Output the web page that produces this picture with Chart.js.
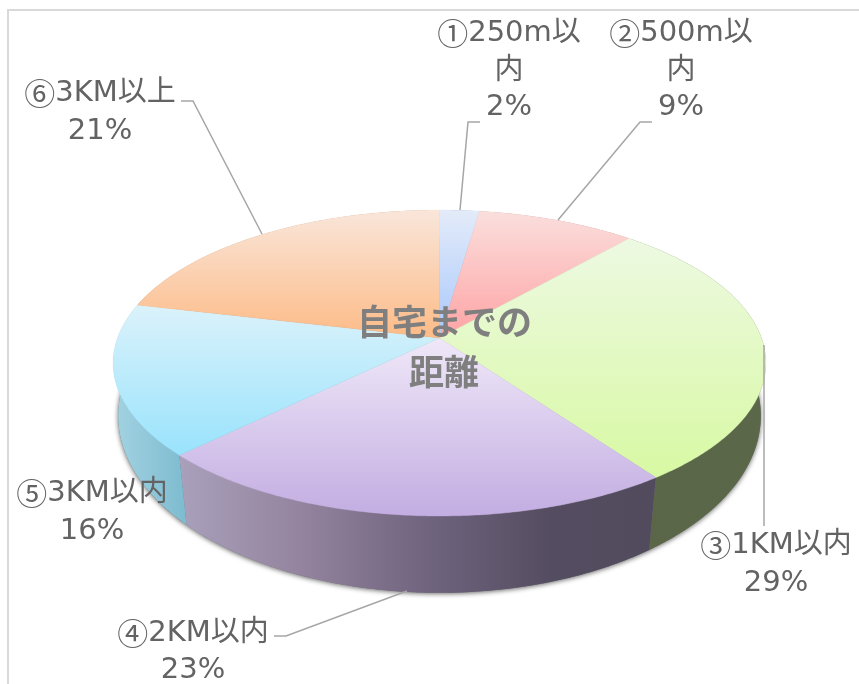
<!DOCTYPE html>
<html lang="ja">
<head>
<meta charset="utf-8">
<style>html,body{margin:0;padding:0;background:#fff}canvas{display:block}</style>
<script src="https://cdn.jsdelivr.net/npm/chart.js@4"></script>
</head>
<body>
<canvas id="c" width="859" height="684"></canvas>
<script>
const categories = ['①250m以内','②500m以内','③1KM以内','④2KM以内','⑤3KM以内','⑥3KM以上'];
const shares = [2.3, 9.2, 28.6, 22.6, 16.0, 21.3];
const chartTitle = ['自宅までの','距離'];

const topColors = [['#e3ebf9','#a9c8fc'],['#fadfdd','#ffa3a4'],['#edf9e2','#d8f9a3'],['#efe8f8','#c3ade2'],['#dbf2fb','#99e3fc'],['#f9e6da','#fdbb87']];
const wallStops = [
  [[0,'#8aa0c0'],[1,'#8aa0c0']],
  [[0,'#b08888'],[1,'#b08888']],
  [[0,'#5a6647'],[1,'#5a6749']],
  [[0,'#a9a0bb'],[0.25,'#94849f'],[0.5,'#726681'],[0.78,'#544c60'],[1,'#524b5d']],
  [[0,'#a3d3e2'],[1,'#7dbbcf']],
  [[0,'#c09878'],[1,'#c09878']]
];
const labelLayout = [
  {x:509, ys:[33,71,107], lines:['①250m以','内']},
  {x:681, ys:[33,71,107], lines:['②500m以','内']},
  {x:776, ys:[545,583], lines:['③1KM以内']},
  {x:193, ys:[633,670], lines:['④2KM以内']},
  {x:92,  ys:[493,531], lines:['⑤3KM以内']},
  {x:100, ys:[93,131], lines:['⑥3KM以上']}
];
const leaders = [
  [[460,210],[468,122],[480,122]],
  [[558,220],[640,122],[652,122]],
  [[764,345],[764,526]],
  [[407,591],[286,636],[274,636]],
  null,
  [[262,234],[193,101],[181,101]]
];
const rim = {cx:439.5, cy:338, a:322, b:148.9, k:0.1634};
const base = {cx:439.5, cy:390.5, a:318, b:173.4, k:0.143};
const labelFont = '29px "DejaVu Sans", "Noto Sans CJK JP", sans-serif';
const circleFont = '31px "Noto Sans CJK JP", sans-serif';

function project(view,t){ // t measured clockwise from 12 o'clock
  const u=Math.sin(t), v=-Math.cos(t), w=1-view.k*v;
  return [view.cx+view.a*u/w, view.cy+view.b*v/w];
}
const top3d=t=>project(rim,t), bottom3d=t=>project(base,t);
function sweep(a0,a1){
  const n=Math.max(2,Math.ceil((a1-a0)/0.01)), out=[];
  for(let i=0;i<=n;i++) out.push(a0+(a1-a0)*i/n);
  return out;
}
function bbox(pts){
  const xs=pts.map(p=>p[0]), ys=pts.map(p=>p[1]);
  return {x0:Math.min(...xs),x1:Math.max(...xs),y0:Math.min(...ys),y1:Math.max(...ys)};
}
function trace(ctx,pts){
  ctx.beginPath();
  pts.forEach((p,i)=> i?ctx.lineTo(p[0],p[1]):ctx.moveTo(p[0],p[1]));
  ctx.closePath();
}
function labelLine(ctx,t,x,y){
  const first=t[0];
  if(first>='\u2460' && first<='\u2473'){
    const rest=t.slice(1);
    ctx.font=circleFont; const w0=ctx.measureText(first).width;
    ctx.font=labelFont; const w1=ctx.measureText(rest).width;
    const left=x-(w0+w1)/2;
    ctx.textAlign='left';
    ctx.font=circleFont; ctx.fillText(first,left,y);
    ctx.font=labelFont; ctx.fillText(rest,left+w0,y);
    ctx.textAlign='center';
  } else {
    ctx.font=labelFont; ctx.fillText(t,x,y);
  }
}

const pie3d = {
  id:'pie3d',
  beforeDatasetDraw(chart,args){
    const ctx=chart.ctx, arcs=chart.getDatasetMeta(args.index).data;
    ctx.save();
    // frame
    ctx.strokeStyle='#d9d9d9'; ctx.lineWidth=2;
    ctx.beginPath(); ctx.moveTo(8,684); ctx.lineTo(8,10); ctx.lineTo(859,10); ctx.stroke();
    const ang=arcs.map(a=>[a.startAngle+Math.PI/2,a.endAngle+Math.PI/2]);
    // soft shadow of the base
    ctx.save();
    ctx.shadowColor='rgba(0,0,0,0.6)'; ctx.shadowBlur=5; ctx.shadowOffsetY=1; ctx.shadowOffsetX=0;
    ctx.fillStyle='#777';
    trace(ctx,sweep(0,Math.PI*2).map(bottom3d)); ctx.fill();
    ctx.restore();
    // walls
    ang.forEach((r,i)=>{
      const s=sweep(r[0],r[1]);
      const pts=s.map(top3d).concat(s.slice().reverse().map(bottom3d));
      const b=bbox(pts);
      const g=ctx.createLinearGradient(b.x0,0,b.x1,0);
      wallStops[i].forEach(st=>g.addColorStop(st[0],st[1]));
      ctx.fillStyle=g; trace(ctx,pts); ctx.fill();
    });
    // top faces
    ang.forEach((r,i)=>{
      const pts=[[rim.cx,rim.cy]].concat(sweep(r[0],r[1]).map(top3d));
      const b=bbox(pts);
      const g=ctx.createLinearGradient(0,b.y0,0,b.y1);
      g.addColorStop(0,topColors[i][0]); g.addColorStop(1,topColors[i][1]);
      ctx.fillStyle=g; ctx.strokeStyle=g; ctx.lineWidth=0.4;
      trace(ctx,pts); ctx.fill(); ctx.stroke();
    });
    // leader lines
    ctx.strokeStyle='#a6a6a6'; ctx.lineWidth=1.5;
    leaders.forEach(l=>{ if(!l) return; ctx.beginPath(); l.forEach((p,i)=> i?ctx.lineTo(p[0],p[1]):ctx.moveTo(p[0],p[1])); ctx.stroke(); });
    // slice labels
    const total=shares.reduce((a,b)=>a+b,0);
    ctx.fillStyle='#636363'; ctx.textAlign='center'; ctx.textBaseline='middle';
    labelLayout.forEach((l,i)=>{
      const texts=l.lines.concat([Math.round(shares[i]/total*100)+'%']);
      texts.forEach((t,j)=>labelLine(ctx,t,l.x,l.ys[j]));
    });
    // centre title
    ctx.fillStyle='#7f7f7f';
    ctx.font='bold 35px "Noto Sans CJK JP", sans-serif';
    ctx.fillText(chartTitle[0],444.5,322);
    ctx.fillText(chartTitle[1],444,372);
    ctx.restore();
    return false;
  }
};

new Chart(document.getElementById('c'),{
  type:'pie',
  data:{labels:categories,datasets:[{data:shares,backgroundColor:topColors.map(c=>c[1]),borderWidth:0}]},
  options:{
    responsive:false,animation:false,
    plugins:{legend:{display:false},tooltip:{enabled:false}}
  },
  plugins:[pie3d]
});
</script>
</body>
</html>
